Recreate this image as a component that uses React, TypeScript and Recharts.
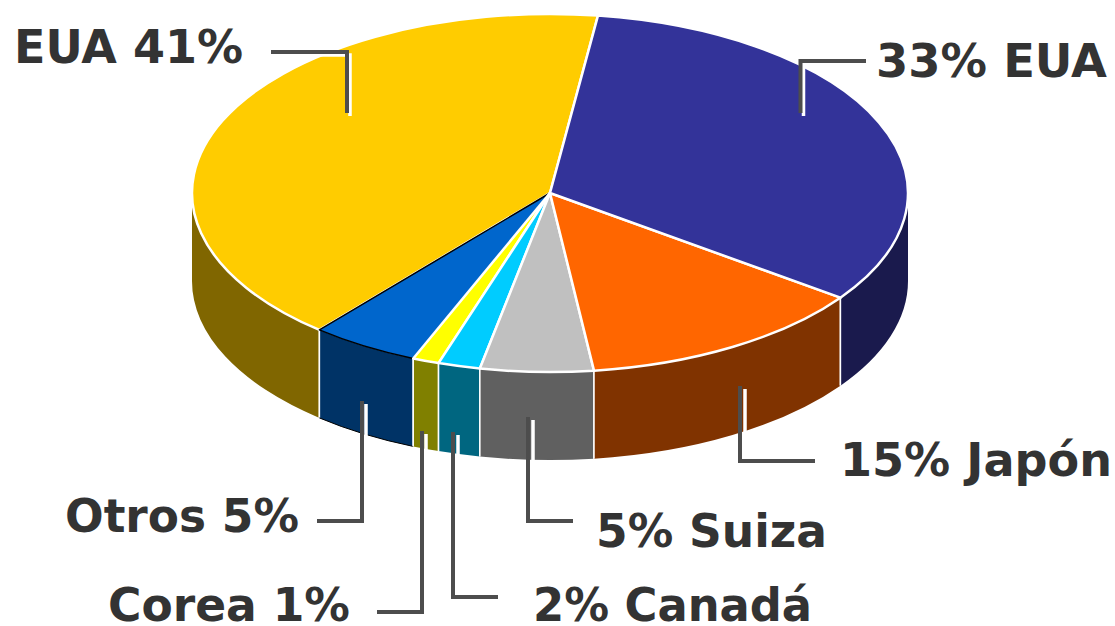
import { Pie, PieChart } from "recharts";

// listed counter-clockwise from the top so that the later slices paint their white edge over the earlier ones
const categories = ["EUA", "Otros", "Corea", "Canadá", "Suiza", "Japón", "EUA"];
// slice sizes as drawn; the printed labels do not sum to 100
const sliceValues = [41, 4.9, 1.2, 1.9, 5.1, 13.1, 32.8];
const labelTexts = ["EUA 41%", "Otros 5%", "Corea 1%", "2% Canadá", "5% Suiza", "15% Japón", "33% EUA"];

const topColors = ["#FFCC00", "#0066CC", "#FFFF00", "#00CCFF", "#C0C0C0", "#FF6600", "#333399"];
const wallColors = ["#806600", "#003366", "#808000", "#006680", "#606060", "#803300", "#1A1A4D"];
const OTROS = 1;

const labelLayout = [
  { x: 14, y: 63, w: 229, dx: 3, line: [[271, 52], [347, 52], [347, 113]] },
  { x: 65, y: 532, w: 234, dx: 4, line: [[317, 521], [362, 521], [362, 401]] },
  { x: 108, y: 621, w: 242, dx: 4, line: [[377, 612], [422, 612], [422, 431]] },
  { x: 533, y: 621, w: 279, dx: 5, line: [[498, 597], [453, 597], [453, 432]] },
  { x: 596, y: 547, w: 231, dx: 5, line: [[573, 521], [528, 521], [528, 417]] },
  { x: 840, y: 476, w: 272, dx: 5, line: [[815, 461], [740, 461], [740, 386]] },
  { x: 876, y: 77, w: 231, dx: 3, line: [[866, 61], [800.5, 61], [800.5, 113]] },
];

const SQUASH = 179 / 358;
const DEPTH = 88;
const RAD = Math.PI / 180;

const onRim = (p: any, angle: number, drop = 0) => {
  const x = p.cx + p.outerRadius * Math.cos(angle * RAD);
  const y = p.cy - p.outerRadius * SQUASH * Math.sin(angle * RAD) + drop;
  return `${x} ${y}`;
};

const arc = (p: any, from: number, to: number, sweep: number, drop = 0) => {
  const large = Math.abs(from - to) > 180 ? 1 : 0;
  return `A ${p.outerRadius} ${p.outerRadius * SQUASH} 0 ${large} ${sweep} ${onRim(p, to, drop)}`;
};

function TopSlice(p: any) {
  const d = `M ${p.cx} ${p.cy} L ${onRim(p, p.startAngle)} ${arc(p, p.startAngle, p.endAngle, 0)} Z`;
  const dark = p.index === OTROS;
  return (
    <path
      d={d}
      fill={topColors[p.index]}
      stroke={dark ? "#000" : "#fff"}
      strokeWidth={dark ? 1.5 : 2.5}
      strokeLinejoin="round"
    />
  );
}

function WallSlice(p: any) {
  // only the front half of the rim is visible
  const from = Math.max(p.startAngle, 180);
  const to = Math.min(p.endAngle, 360);
  if (from >= to) return <g />;
  const topEdge = `M ${onRim(p, from)} ${arc(p, from, to, 0)}`;
  const bottomEdge = `M ${onRim(p, from, DEPTH)} ${arc(p, from, to, 0, DEPTH)}`;
  const body = `${topEdge} L ${onRim(p, to, DEPTH)} ${arc(p, to, from, 1, DEPTH)} Z`;
  return (
    <g>
      <path d={body} fill={wallColors[p.index]} />
      {from > 180 && <path d={`M ${onRim(p, from)} L ${onRim(p, from, DEPTH)}`} stroke="#fff" strokeWidth={1.5} />}
      {to < 360 && <path d={`M ${onRim(p, to)} L ${onRim(p, to, DEPTH)}`} stroke="#fff" strokeWidth={1.5} />}
      {p.index === OTROS && <path d={bottomEdge} fill="none" stroke="#000" strokeWidth={1} />}
    </g>
  );
}

function SliceLabel({ index }: any) {
  const { x, y, w, dx, line } = labelLayout[index];
  const pts = line.map((c) => c.join(",")).join(" ");
  const shadow = line.map((c) => `${c[0] + dx},${c[1] + 3}`).join(" ");
  return (
    <g>
      <polyline points={shadow} fill="none" stroke="#fff" strokeWidth={3.5} />
      <polyline points={pts} fill="none" stroke="#4D4D4D" strokeWidth={4} />
      <text
        x={x}
        y={y}
        textLength={w}
        lengthAdjust="spacingAndGlyphs"
        fontFamily="DejaVu Sans"
        fontWeight="bold"
        fontSize={45.5}
        fill="#333333"
      >
        {labelTexts[index]}
      </text>
    </g>
  );
}

const data = categories.map((name, i) => ({ name, value: sliceValues[i] }));

export default function App() {
  return (
    <div style={{ position: "absolute", left: 0, top: 0 }}>
      <PieChart width={1115} height={626} margin={{ top: 0, right: 0, bottom: 0, left: 0 }}>
        <Pie
          data={data}
          dataKey="value"
          cx={550}
          cy={193}
          outerRadius={358}
          startAngle={82.3}
          endAngle={442.3}
          shape={WallSlice}
          isAnimationActive={false}
        />
        <Pie
          data={data}
          dataKey="value"
          cx={550}
          cy={193}
          outerRadius={358}
          startAngle={82.3}
          endAngle={442.3}
          shape={TopSlice}
          label={SliceLabel}
          labelLine={false}
          isAnimationActive={false}
        />
      </PieChart>
    </div>
  );
}
